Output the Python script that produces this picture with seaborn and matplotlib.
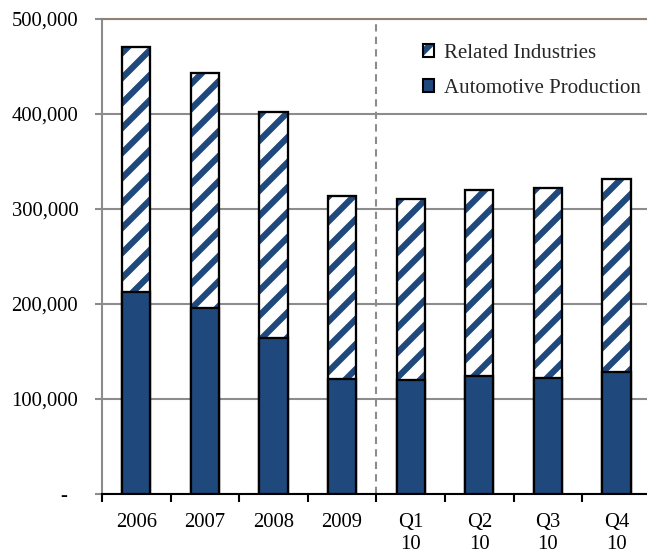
import numpy as np
import pandas as pd
import matplotlib
matplotlib.use("Agg")
import matplotlib.pyplot as plt
import seaborn as sns
from matplotlib.patches import Patch
from matplotlib.legend_handler import HandlerTuple

# Employment by period: automotive production plus related industries
periods = ["2006", "2007", "2008", "2009", "Q1\n10", "Q2\n10", "Q3\n10", "Q4\n10"]
automotive = [213000, 196000, 164500, 121000, 120000, 124500, 122500, 128000]
related = [258000, 247500, 237500, 193000, 191000, 195500, 199500, 204000]
ytick_values = [0, 100000, 200000, 300000, 400000, 500000]
ytick_labels = ["-  ", "100,000", "200,000", "300,000", "400,000", "500,000"]

NAVY = "#1f497d"
GRID = "#8c8c8c"
TOPLINE = "#8f8270"
FS = 9.9
LEG_FS = 10.0
BAR_W = 0.41

sns.set_theme(style="white")
plt.rcParams["font.family"] = ["Liberation Serif", "DejaVu Serif"]
plt.rcParams["hatch.linewidth"] = 3.0

df = pd.DataFrame({"period": periods, "auto": automotive, "related": related})
df["total"] = df["auto"] + df["related"]

DPI = 150
W, H = 647, 554
fig = plt.figure(figsize=(W / DPI, H / DPI), dpi=DPI)
ax = fig.add_axes([102 / W, 1 - 494 / H, 1 - 102 / W, (494 - 19) / H])

# hatched full-height bars (related industries sit on top of automotive)
sns.barplot(data=df, x="period", y="total", color="white", saturation=1,
            width=BAR_W, edgecolor=NAVY, linewidth=0, hatch="//", ax=ax, zorder=2)
# black outline of the stacked bar
sns.barplot(data=df, x="period", y="total", fill=False, width=BAR_W,
            edgecolor="black", linewidth=1.1, ax=ax, zorder=3)
# automotive production segment
sns.barplot(data=df, x="period", y="auto", color=NAVY, saturation=1,
            width=BAR_W, edgecolor="black", linewidth=1.1, ax=ax, zorder=4)

ax.set_xlim(-0.5, -0.5 + (W - 102) / 68.6)
ax.set_ylim(0, 500000)
ax.set_xlabel("")
ax.set_ylabel("")

ax.set_yticks(ytick_values)
ax.set_yticklabels(ytick_labels, fontsize=FS, color="black")
ax.set_xticks(range(len(periods)))
ax.set_xticklabels(periods, fontsize=FS, color="black", linespacing=1.22)
ax.set_xticks(np.arange(-0.5, len(periods) - 0.5, 1), minor=True)

ax.tick_params(axis="x", which="major", length=0, pad=9)
ax.tick_params(axis="x", which="minor", direction="out", length=4,
               width=1.0, color="black", bottom=True)
ax.tick_params(axis="y", which="major", direction="out", length=3.4,
               width=1.0, color=GRID, pad=8, left=True)

ax.set_axisbelow(True)
ax.yaxis.grid(True, color=GRID, linewidth=1.0)
ax.xaxis.grid(False)

ax.axvline(3.5, color=GRID, linewidth=1.0, linestyle=(0, (3.5, 2.5)), zorder=1)

ax.spines["left"].set_color(GRID)
ax.spines["left"].set_linewidth(1.0)
ax.spines["bottom"].set_color("black")
ax.spines["bottom"].set_linewidth(1.0)
ax.spines["top"].set_color(TOPLINE)
ax.spines["top"].set_linewidth(1.0)
ax.spines["right"].set_visible(False)

hatch_handle = (Patch(facecolor="white", edgecolor=NAVY, linewidth=0, hatch="//"),
                Patch(fill=False, edgecolor="black", linewidth=1.0))
auto_handle = Patch(facecolor=NAVY, edgecolor="black", linewidth=1.0)
ax.legend([hatch_handle, auto_handle], ["Related Industries", "Automotive Production"],
          handler_map={tuple: HandlerTuple(ndivide=1)},
          loc="upper left", bbox_to_anchor=(423 / W, 1 - 44 / H),
          bbox_transform=fig.transFigure, frameon=False, fontsize=LEG_FS,
          handlelength=0.55, handleheight=0.55, handletextpad=0.45,
          labelspacing=0.75, borderpad=0, borderaxespad=0)

fig.savefig("out.png", dpi=DPI)
